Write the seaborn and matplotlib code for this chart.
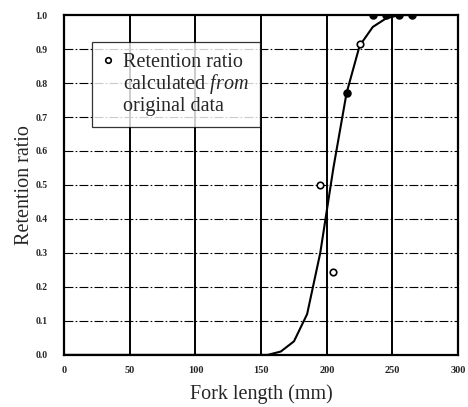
import matplotlib
matplotlib.use("Agg")
import matplotlib.pyplot as plt
import seaborn as sns
import pandas as pd
from matplotlib.lines import Line2D

# Data
curve_x = [0, 145, 155, 165, 175, 185, 195, 205, 215, 225, 235, 245, 255, 265]
curve_y = [0.0, 0.0, 0.0, 0.01, 0.04, 0.12, 0.30, 0.55, 0.77, 0.91, 0.965, 0.99, 1.0, 1.0]
obs_x = [195, 205, 215, 225, 235, 245, 255, 265]
obs_y = [0.50, 0.245, 0.77, 0.915, 1.0, 1.0, 1.0, 1.0]
obs_filled = [False, False, True, False, True, True, True, True]
x_ticks = [0, 50, 100, 150, 200, 250, 300]
y_ticks = [0.0, 0.1, 0.2, 0.3, 0.4, 0.5, 0.6, 0.7, 0.8, 0.9, 1.0]

sns.set_style("white")
plt.rcParams['font.family'] = ['Liberation Serif', 'DejaVu Serif']
plt.rcParams['mathtext.fontset'] = 'custom'
plt.rcParams['mathtext.rm'] = 'Liberation Serif'
plt.rcParams['mathtext.it'] = 'Liberation Serif:italic'

fig = plt.figure(figsize=(4.68, 4.07), dpi=100)
ax = fig.add_axes([0.137, 0.128, 0.842, 0.835])

# grid
for v in [50, 100, 150, 200, 250]:
    ax.axvline(v, color='black', lw=1.4, zorder=1)
for h in y_ticks[1:-1]:
    ax.axhline(h, color='black', lw=0.8, ls=(0, (8, 2, 1.5, 2)), zorder=1)

curve_df = pd.DataFrame({'x': curve_x, 'y': curve_y})
sns.lineplot(data=curve_df, x='x', y='y', ax=ax, color='black', lw=1.5,
             estimator=None, sort=False, zorder=3)

obs_df = pd.DataFrame({'x': obs_x, 'y': obs_y, 'filled': obs_filled})
open_df = obs_df[~obs_df['filled']]
fill_df = obs_df[obs_df['filled']]
sns.scatterplot(data=open_df, x='x', y='y', ax=ax, marker='o', s=22,
                facecolor='white', edgecolor='black', linewidth=1.2, zorder=4)
sns.scatterplot(data=fill_df, x='x', y='y', ax=ax, marker='o', s=26,
                color='black', edgecolor='black', linewidth=1.0, zorder=4)

ax.set_xlim(0, 300)
ax.set_ylim(0, 1.0)
ax.set_xticks(x_ticks)
ax.set_xticklabels([str(t) for t in x_ticks], fontsize=7.5, fontweight='bold')
ax.set_yticks(y_ticks)
ax.set_yticklabels([f"{t:.1f}" for t in y_ticks], fontsize=7, fontweight='bold')
ax.tick_params(axis='y', length=0, pad=12)
ax.tick_params(axis='x', length=0, pad=8)
ax.set_xlabel("Fork length (mm)", fontsize=14.5, labelpad=7)
ax.set_ylabel("Retention ratio", fontsize=14.5, labelpad=1)
for s in ax.spines.values():
    s.set_color('black')
    s.set_linewidth(1.6)

handles = [
    Line2D([], [], marker='o', ls='none', markerfacecolor='white',
           markeredgecolor='black', markersize=4, markeredgewidth=1.2),
    Line2D([], [], ls='none'),
    Line2D([], [], ls='none'),
]
labels = ["Retention ratio", r"calculated $\mathit{from}$", "original data"]
leg = ax.legend(handles, labels, loc='upper left', bbox_to_anchor=(0.071, 0.92),
                fontsize=14.5, frameon=True, fancybox=False, edgecolor='black',
                handlelength=0.5, handletextpad=0.5, labelspacing=0.0,
                borderpad=0.55, borderaxespad=0)
leg.get_frame().set_linewidth(0.9)
leg.set_zorder(5)

fig.savefig("out.png", dpi=100)
